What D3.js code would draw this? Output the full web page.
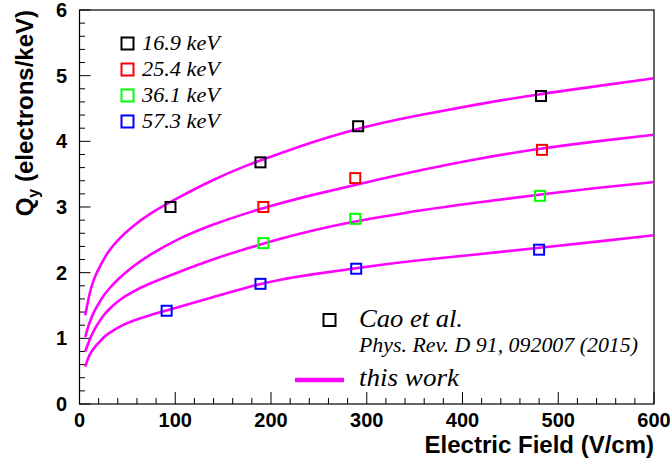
<!DOCTYPE html>
<html><head><meta charset="utf-8">
<script src="https://cdn.jsdelivr.net/npm/d3@7"></script>
<style>body{margin:0;background:#fff}svg{display:block}</style>
</head><body>
<script>
// ---- data ----
const energies = ["16.9 keV", "25.4 keV", "36.1 keV", "57.3 keV"];
const colors = ["#000000", "#ff0000", "#00ff00", "#0000ff"];
const caoE169 = [[95, 3.00], [189, 3.68], [291, 4.23], [482, 4.69]];
const caoE254 = [[192, 3.00], [288, 3.44], [483, 3.87]];
const caoE361 = [[192, 2.45], [288, 2.82], [481, 3.17]];
const caoE573 = [[91, 1.42], [189, 1.83], [289, 2.06], [480, 2.35]];
const fieldGrid = [6, 9, 12, 16, 20, 26, 30, 40, 54, 72, 100, 140, 175, 210, 245, 280, 315, 355, 410, 475, 545, 600];
const work169 = [1.35, 1.58, 1.77, 1.94, 2.06, 2.22, 2.32, 2.50, 2.69, 2.89, 3.12, 3.42, 3.64, 3.82, 4.00, 4.15, 4.28, 4.40, 4.55, 4.71, 4.85, 4.96];
const work254 = [1.02, 1.18, 1.30, 1.43, 1.53, 1.67, 1.74, 1.90, 2.08, 2.26, 2.50, 2.74, 2.91, 3.06, 3.19, 3.31, 3.43, 3.56, 3.72, 3.88, 4.01, 4.10];
const work361 = [0.80, 0.92, 1.03, 1.15, 1.24, 1.37, 1.43, 1.57, 1.70, 1.83, 1.99, 2.21, 2.37, 2.52, 2.65, 2.76, 2.85, 2.95, 3.06, 3.18, 3.30, 3.38];
const work573 = [0.57, 0.70, 0.79, 0.87, 0.93, 1.03, 1.07, 1.17, 1.26, 1.35, 1.46, 1.63, 1.78, 1.90, 1.98, 2.05, 2.12, 2.19, 2.27, 2.37, 2.48, 2.57];
const xTicks = [0, 100, 200, 300, 400, 500, 600];
const yTicks = [0, 1, 2, 3, 4, 5, 6];

const caoSets = [caoE169, caoE254, caoE361, caoE573];
const workSets = [work169, work254, work361, work573];

// ---- layout ----
const W = 670, H = 461;
const L = 79.5, R = 654, T = 10, B = 404;
const svg = d3.select("body").append("svg").attr("width", W).attr("height", H);
const x = d3.scaleLinear().domain([0, 600]).range([L, R]);
const y = d3.scaleLinear().domain([0, 6]).range([B, T]);

// frame
svg.append("rect").attr("x", L).attr("y", T).attr("width", R - L).attr("height", B - T)
  .attr("fill", "none").attr("stroke", "#000").attr("stroke-width", 1.2);

// ticks (inside)
const tickG = svg.append("g").attr("stroke", "#000").attr("stroke-width", 1);
d3.range(0, 601, 20).forEach(v => {
  const major = v % 100 === 0;
  tickG.append("line").attr("x1", x(v)).attr("x2", x(v))
    .attr("y1", B).attr("y2", B - (major ? 12 : 6));
});
d3.range(0, 31, 1).forEach(i => {
  const v = i * 0.2;
  const major = i % 5 === 0;
  tickG.append("line").attr("y1", y(v)).attr("y2", y(v))
    .attr("x1", L).attr("x2", L + (major ? 11 : 5.5));
});

// tick labels
const lblFont = "'Liberation Sans', Arial, sans-serif";
svg.append("g").selectAll("text").data(xTicks).join("text")
  .attr("x", d => x(d)).attr("y", 427).attr("text-anchor", "middle")
  .attr("font-family", lblFont).attr("font-weight", "bold").attr("font-size", 20)
  .text(d => d);
svg.append("g").selectAll("text").data(yTicks).join("text")
  .attr("x", 67).attr("y", d => y(d) + 7).attr("text-anchor", "end")
  .attr("font-family", lblFont).attr("font-weight", "bold").attr("font-size", 20)
  .text(d => d);

// axis titles
svg.append("text").attr("x", R).attr("y", 453).attr("text-anchor", "end")
  .attr("font-family", lblFont).attr("font-weight", "bold").attr("font-size", 24)
  .text("Electric Field (V/cm)");
const yt = svg.append("text").attr("transform", `translate(33,${T}) rotate(-90)`)
  .attr("text-anchor", "end")
  .attr("font-family", lblFont).attr("font-weight", "bold").attr("font-size", 24);
yt.append("tspan").text("Q");
yt.append("tspan").attr("font-size", 16).attr("dy", 6).text("y");
yt.append("tspan").attr("dy", -6).text(" (electrons/keV)");

// curves
const line = d3.line().x(d => x(d[0])).y(d => y(d[1])).curve(d3.curveBasis);
workSets.forEach(ws => {
  svg.append("path").datum(fieldGrid.map((f, i) => [f, ws[i]]))
    .attr("d", line).attr("fill", "none").attr("stroke", "#ff00ff").attr("stroke-width", 2.6);
});

// data squares
const sq = 10;
caoSets.forEach((set, k) => {
  svg.append("g").selectAll("rect").data(set).join("rect")
    .attr("x", d => x(d[0]) - sq / 2).attr("y", d => y(d[1]) - sq / 2)
    .attr("width", sq).attr("height", sq)
    .attr("fill", "none").attr("stroke", colors[k]).attr("stroke-width", 2);
});

// legend 1
const serif = "'Liberation Serif', 'Times New Roman', serif";
const lsq = 12;
energies.forEach((e, k) => {
  const cy = 43.5 + k * 26;
  svg.append("rect").attr("x", 127.5 - lsq / 2).attr("y", cy - lsq / 2).attr("width", lsq).attr("height", lsq)
    .attr("fill", "none").attr("stroke", colors[k]).attr("stroke-width", 2);
  svg.append("text").attr("x", 142).attr("y", cy + 6.5).attr("font-family", serif)
    .attr("font-style", "italic").attr("font-size", 20)
    .attr("textLength", 78).attr("lengthAdjust", "spacingAndGlyphs").text(e);
});

// legend 2
svg.append("rect").attr("x", 329.5 - lsq / 2).attr("y", 320 - lsq / 2).attr("width", lsq).attr("height", lsq)
  .attr("fill", "none").attr("stroke", "#000").attr("stroke-width", 2);
svg.append("text").attr("x", 359).attr("y", 327).attr("font-family", serif)
  .attr("font-style", "italic").attr("font-size", 25)
  .attr("textLength", 104).attr("lengthAdjust", "spacingAndGlyphs").text("Cao et al.");
svg.append("text").attr("x", 359).attr("y", 352).attr("font-family", serif)
  .attr("font-style", "italic").attr("font-size", 20)
  .attr("textLength", 279).attr("lengthAdjust", "spacingAndGlyphs").text("Phys. Rev. D 91, 092007 (2015)");
svg.append("line").attr("x1", 295).attr("x2", 344).attr("y1", 380).attr("y2", 380)
  .attr("stroke", "#ff00ff").attr("stroke-width", 4.5);
svg.append("text").attr("x", 359).attr("y", 386).attr("font-family", serif)
  .attr("font-style", "italic").attr("font-size", 25)
  .attr("textLength", 100).attr("lengthAdjust", "spacingAndGlyphs").text("this work");
</script>
</body></html>
